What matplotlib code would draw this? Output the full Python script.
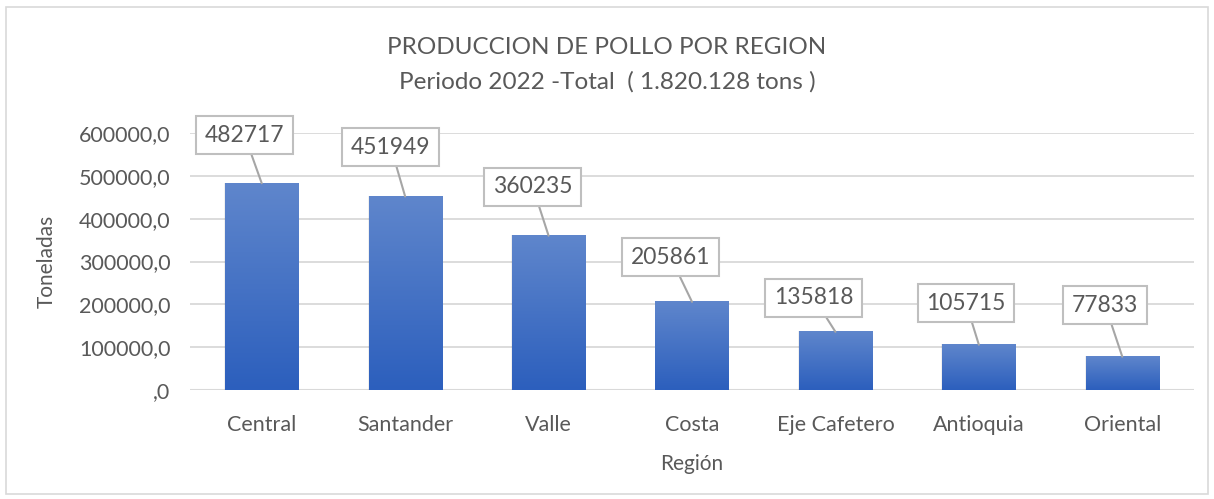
import matplotlib.pyplot as plt
import numpy as np
from matplotlib.patches import Rectangle
from matplotlib.colors import LinearSegmentedColormap
from matplotlib.ticker import FuncFormatter

regiones = ['Central', 'Santander', 'Valle', 'Costa', 'Eje Cafetero', 'Antioquia', 'Oriental']
toneladas = [482717, 451949, 360235, 205861, 135818, 105715, 77833]
yticks = [0, 100000, 200000, 300000, 400000, 500000, 600000]

# posicion de las etiquetas (desplazamiento en x, altura en y)
etiqueta_dx = [-0.12, -0.10, -0.11, -0.15, -0.15, -0.09, -0.12]
etiqueta_y = [595000, 567000, 474000, 310000, 215000, 203000, 198000]

gris = '#595959'
plt.rcParams['font.family'] = ['Lato', 'DejaVu Sans']

fig = plt.figure(figsize=(12.14, 4.99), dpi=100)
ax = fig.add_axes([190 / 1214, 1 - 390 / 499, 1004 / 1214, 257 / 499])

x = np.arange(len(regiones))
barras = ax.bar(x, toneladas, width=0.51, color='none', zorder=3)

# degradado vertical en cada barra
grad = np.linspace(0, 1, 256).reshape(-1, 1)
cmap = LinearSegmentedColormap.from_list('azul', ['#2C5FBD', '#5F86CC'])
for b in barras:
    x0, w, h = b.get_x(), b.get_width(), b.get_height()
    # sombra suave
    ax.add_patch(Rectangle((x0 - 0.006, 0), w + 0.012, h + 1500, color='#000000',
                           alpha=0.06, zorder=2, lw=0))
    ax.imshow(grad, extent=(x0, x0 + w, 0, h), origin='lower', cmap=cmap,
              aspect='auto', zorder=3)

for i, v in enumerate(toneladas):
    ax.annotate(str(v), xy=(x[i], v), xytext=(x[i] + etiqueta_dx[i], etiqueta_y[i]),
                ha='center', va='center', fontsize=16.5, color=gris, zorder=5,
                bbox=dict(boxstyle='square,pad=0.38', fc='white', ec='#BFBFBF', lw=1.5),
                arrowprops=dict(arrowstyle='-', color='#A6A6A6', lw=1.5,
                                shrinkA=0, shrinkB=0))

ax.set_xlim(-0.5, len(regiones) - 0.5)
ax.set_ylim(0, 600000)
ax.set_yticks(yticks)
ax.yaxis.set_major_formatter(FuncFormatter(
    lambda v, p: ',0' if v == 0 else f'{int(v)},0'))
ax.set_xticks(x)
ax.set_xticklabels(regiones)
ax.tick_params(axis='both', length=0, labelsize=15.5, colors=gris)
ax.tick_params(axis='x', pad=18)
ax.tick_params(axis='y', pad=14)
ax.grid(axis='y', color='#D9D9D9', lw=1.3, zorder=0)
for s in ax.spines.values():
    s.set_visible(False)
ax.axhline(0, color='#D9D9D9', lw=1.5, zorder=1)
ax.set_ylabel('Toneladas', fontsize=15, color=gris, labelpad=16)
ax.set_xlabel('Región', fontsize=15, color=gris, labelpad=14)
ax.set_axisbelow(True)

fig.text(0.5, 1 - 47 / 499, 'PRODUCCION DE POLLO POR REGION', ha='center', va='center',
         fontsize=17.5, color=gris)
fig.text(0.5, 1 - 82 / 499, 'Periodo 2022 -Total  ( 1.820.128 tons )', ha='center',
         va='center', fontsize=17.5, color=gris)

fig.patches.append(Rectangle((6 / 1214, 5 / 499), 1202 / 1214, 487 / 499,
                             transform=fig.transFigure, fill=False, ec='#D9D9D9', lw=1.2))

fig.savefig('out.png', dpi=100)
